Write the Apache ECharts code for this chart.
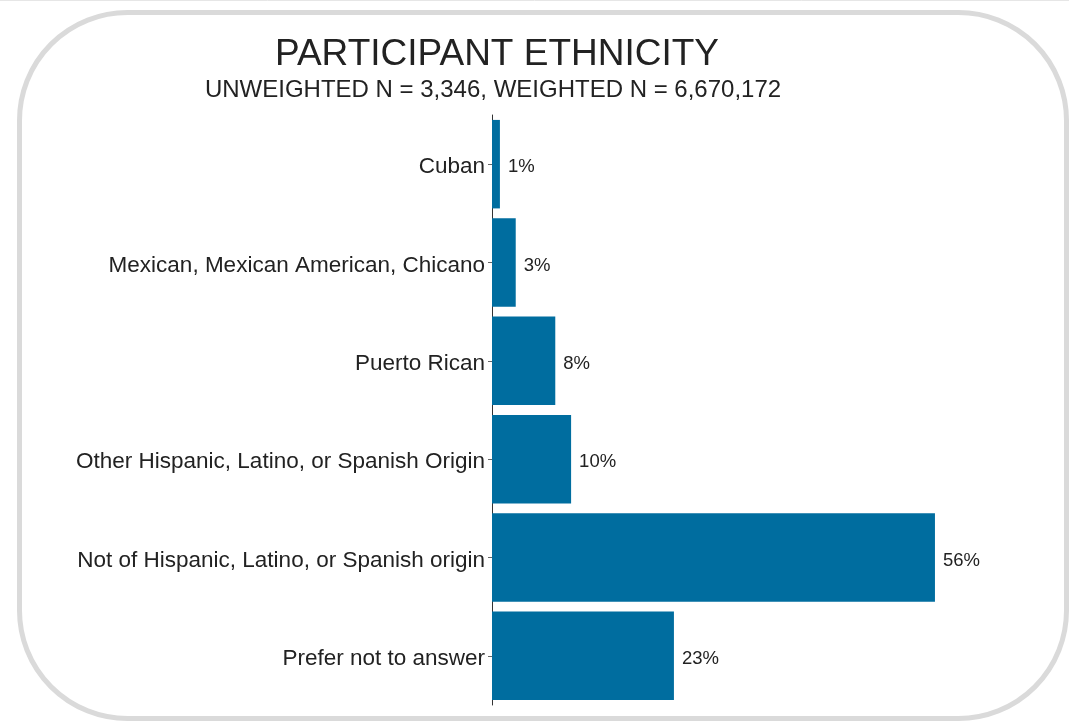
<!DOCTYPE html>
<html>
<head>
<meta charset="utf-8">
<title>Participant Ethnicity</title>
<script src="https://cdn.jsdelivr.net/npm/echarts@6/dist/echarts.min.js"></script>
<style>
  html, body { margin: 0; padding: 0; background: #ffffff; }
  #chart { width: 1069px; height: 721px; }
</style>
</head>
<body>
<div id="chart"></div>
<script>
// Survey responses by ethnicity (percent of weighted respondents)
const categories = [
  'Cuban',
  'Mexican, Mexican American, Chicano',
  'Puerto Rican',
  'Other Hispanic, Latino, or Spanish Origin',
  'Not of Hispanic, Latino, or Spanish origin',
  'Prefer not to answer'
];
const percents = [1, 3, 8, 10, 56, 23];

const titleText = 'PARTICIPANT ETHNICITY';
const subtitleText = 'UNWEIGHTED N = 3,346, WEIGHTED N = 6,670,172';

const FONT = '"Liberation Sans", Arial, sans-serif';
const BAR = '#006d9f';
const INK = '#222222';

const chart = echarts.init(document.getElementById('chart'), null, { renderer: 'canvas' });

chart.setOption({
  backgroundColor: '#ffffff',
  animation: false,
  title: [
    {
      text: titleText,
      left: 492, top: 31, textAlign: 'center',
      textStyle: { fontFamily: FONT, fontSize: 37, fontWeight: 'normal', color: INK }
    },
    {
      text: subtitleText,
      left: 488, top: 73, textAlign: 'center',
      textStyle: { fontFamily: FONT, fontSize: 24, fontWeight: 'normal', color: INK }
    }
  ],
  graphic: [
    // rounded frame around the panel
    {
      type: 'rect', z: -1, silent: true,
      shape: { x: 19.5, y: 12.5, width: 1047, height: 706, r: 108 },
      style: { fill: 'none', stroke: '#dadada', lineWidth: 5 }
    },
    {
      type: 'line', z: -1, silent: true,
      shape: { x1: 0, y1: 0.5, x2: 1069, y2: 0.5 },
      style: { stroke: '#e6e6e6', lineWidth: 1 }
    }
  ],
  grid: { left: 492, top: 115, width: 474.6, height: 590, containLabel: false },
  xAxis: {
    type: 'value', min: 0, max: 60,
    show: false
  },
  yAxis: {
    type: 'category',
    data: categories,
    inverse: true,
    axisLine: { show: true, lineStyle: { color: '#333333', width: 1 } },
    axisTick: { show: true, alignWithLabel: true, length: 4, lineStyle: { color: '#666666' } },
    // text sits a few pixels below the tick
    axisLabel: {
      fontFamily: FONT, fontSize: 22.5, color: INK, margin: 7,
      verticalAlign: 'top', lineHeight: 6
    },
    splitLine: { show: false }
  },
  series: [{
    type: 'bar',
    data: percents,
    barCategoryGap: '10%',
    itemStyle: { color: BAR },
    label: {
      show: true, position: 'right', distance: 8, offset: [0, 3],
      fontFamily: FONT, fontSize: 18.5, color: INK,
      formatter: p => Math.round(p.value) + '%'
    }
  }]
});
</script>
</body>
</html>
